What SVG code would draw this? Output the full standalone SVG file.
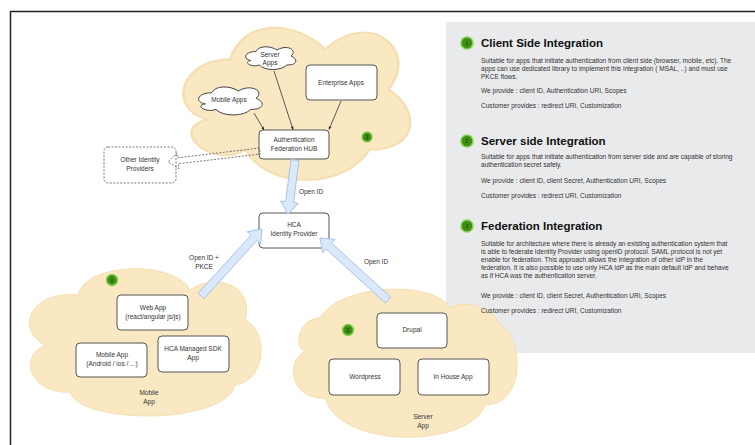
<svg xmlns="http://www.w3.org/2000/svg" xmlns:xlink="http://www.w3.org/1999/xlink" width="755" height="445" viewBox="0 0 755 445">
<defs>
<path id="cloud" d="M25 25 C5 25 0 50 16 55 C0 60 18 80 31 70 C40 90 70 90 80 70 C100 70 100 50 87.5 40 C100 20 80 0 62.5 20 C50 5 30 5 25 25 Z"/>
<marker id="arr" viewBox="0 0 10 10" refX="9" refY="5" markerWidth="5" markerHeight="5" orient="auto"><path d="M0 1 L10 5 L0 9 L3 5 Z" fill="#222"/></marker>
</defs>
<style>
text{font-family:"Liberation Sans",Arial,sans-serif;}
.t{font-size:6.5px;fill:#333;text-anchor:middle;}
.node{fill:#fff;stroke:#555;stroke-width:1;}
.bigcloud{fill:#fae8c2;stroke:#f5dfb0;stroke-width:1;}
.smallcloud{fill:#fff;stroke:#444;stroke-width:1;}
.fat{fill:#dae8fc;stroke:#a9c2e6;stroke-width:1;}
.thin{stroke:#333;stroke-width:0.8;fill:none;marker-end:url(#arr);}
.badge{fill:#3e8e12;stroke:#86d155;stroke-width:1.5;}
.bn{font-size:5px;fill:#163a04;text-anchor:middle;}
.title{font-size:11.5px;font-weight:bold;fill:#111;}
.body{font-size:6.55px;fill:#333;}
</style>
<rect x="10.5" y="11.5" width="760" height="450" fill="#fff" stroke="#222" stroke-width="1.5"/>
<rect x="446" y="22" width="320" height="331" fill="#e9eaec"/>
<g id="federation-cloud">
<use href="#cloud" class="bigcloud" transform="translate(167,9) scale(2.53,2.01)" vector-effect="non-scaling-stroke"/>
<circle class="badge" cx="367" cy="137" r="5"/><text class="bn" x="367" y="138.8">3</text>
</g>
<g id="mobile-cloud">
<path class="bigcloud" d="M78 295 C85 262 175 260 190 290 C215 272 255 285 245 320 C268 330 268 380 235 385 C225 425 80 425 70 392 C35 395 15 360 45 345 C15 330 30 290 78 295 Z"/>
<circle class="badge" cx="112" cy="280" r="5.5"/><text class="bn" x="112" y="281.8">1</text>
<text class="t" x="149" y="395.3">Mobile</text><text class="t" x="149" y="404.3">App</text>
</g>
<g id="server-cloud">
<path class="bigcloud" d="M320 318 C300 318 292 345 305 352 C285 360 290 400 325 398 C340 450 470 448 485 405 C525 405 525 340 500 325 C492 305 462 300 450 308 C435 280 340 283 320 318 Z"/>
<circle class="badge" cx="348" cy="330" r="5.5"/><text class="bn" x="348" y="331.8">2</text>
<text class="t" x="423" y="419.3">Server</text><text class="t" x="423" y="428.3">App</text>
</g>
<g id="panel">
<circle class="badge" cx="467" cy="43" r="6"/><text class="bn" x="467" y="44.8">1</text>
<text class="title" x="481" y="47">Client Side Integration</text>
<text class="body" x="481" y="63">Suitable for apps that initiate authentication from client side (browser, mobile, etc). The</text>
<text class="body" x="481" y="71">apps can use dedicated library to implement this integration ( MSAL, ..) and must use</text>
<text class="body" x="481" y="79">PKCE flows.</text>
<text class="body" x="481" y="93">We provide : client ID, Authentication URI, Scopes</text>
<text class="body" x="481" y="108">Customer provides : redirect URI, Customization</text>
<circle class="badge" cx="467" cy="141" r="6"/><text class="bn" x="467" y="142.8">2</text>
<text class="title" x="481" y="145">Server side Integration</text>
<text class="body" x="481" y="159">Suitable for apps that initiate authentication from server side and are capable of storing</text>
<text class="body" x="481" y="167">authentication secret safely.</text>
<text class="body" x="481" y="183">We provide : client ID, client Secret, Authentication URI, Scopes</text>
<text class="body" x="481" y="198">Customer provides : redirect URI, Customization</text>
<circle class="badge" cx="467" cy="226" r="6"/><text class="bn" x="467" y="227.8">3</text>
<text class="title" x="481" y="230">Federation Integration</text>
<text class="body" x="481" y="246">Suitable for architecture where there is already an existing authentication system that</text>
<text class="body" x="481" y="254">is able to federate Identity Provider using openID protocol. SAML protocol is not yet</text>
<text class="body" x="481" y="262">enable for federation.  This approach allows the integration of other IdP in the</text>
<text class="body" x="481" y="270">federation. It is also possible to use only HCA IdP as the main default IdP and behave</text>
<text class="body" x="481" y="278">as if HCA was the authentication server.</text>
<text class="body" x="481" y="298">We provide : client ID, client Secret, Authentication URI, Scopes</text>
<text class="body" x="481" y="313">Customer provides : redirect URI, Customization</text>
</g>
<g id="server-apps">
<path class="smallcloud" d="M256 51.5 C244.8 51.5 242 59 251 60.5 C242 62 252.1 68 259.4 65 C264.4 71 281.2 71 286.8 65 C298 65 298 59 291 56 C298 50 286.8 44 277 50 C270 45.5 258.8 45.5 256 51.5 Z"/>
<text class="t" x="270" y="57">Server</text><text class="t" x="270" y="65">Apps</text>
</g>
<g id="mobile-apps">
<path class="smallcloud" d="M211.75 92.75 C197.55 92.75 194 102 205.36 103.85 C194 105.7 206.78 113.1 216 109.4 C222.4 116.8 243.7 116.8 250.8 109.4 C265 109.4 265 102 256.1 98.3 C265 90.9 250.8 83.5 238.4 90.9 C229.5 85.350 215.3 85.35 211.75 92.75 Z"/>
<text class="t" x="229" y="102.3">Mobile Apps</text>
</g>
<g id="enterprise-apps">
<rect class="node" x="306" y="65" width="71" height="35" rx="4"/>
<text class="t" x="341" y="85.3">Enterprise Apps</text>
</g>
<g id="hub">
<rect class="node" x="259" y="130" width="70" height="29" rx="4"/>
<text class="t" x="294" y="142.3">Authentication</text><text class="t" x="294" y="151.3">Federation HUB</text>
</g>
<g id="other-idp">
<rect x="104" y="147" width="72" height="36" rx="4" fill="#fff" stroke="#555" stroke-width="0.8" stroke-dasharray="2,1.5"/>
<text class="t" x="140" y="162.3">Other Identity</text><text class="t" x="140" y="171.3">Providers</text>
</g>
<g id="hca-idp">
<rect class="node" x="259" y="213" width="70" height="35" rx="4"/>
<text class="t" x="294" y="227.3">HCA</text><text class="t" x="294" y="236.3">Identity Provider</text>
</g>
<g id="web-app">
<rect class="node" x="117" y="295" width="71" height="35" rx="4"/>
<text class="t" x="153" y="310.3">Web App</text><text class="t" x="153" y="319.3">(react/angular js/js)</text>
</g>
<g id="mobile-app">
<rect class="node" x="76" y="343" width="71" height="34" rx="4"/>
<text class="t" x="112" y="357.3">Mobile App</text><text class="t" x="112" y="366.3">(Android / ios / ...)</text>
</g>
<g id="sdk-app">
<rect class="node" x="158" y="336" width="71" height="36" rx="4"/>
<text class="t" x="193" y="351.3">HCA Managed SDK</text><text class="t" x="193" y="360.3">App</text>
</g>
<g id="drupal">
<rect class="node" x="377" y="313" width="70" height="35" rx="4"/>
<text class="t" x="412" y="332.3">Drupal</text>
</g>
<g id="wordpress">
<rect class="node" x="329" y="359" width="71" height="36" rx="4"/>
<text class="t" x="365" y="379.3">Wordpress</text>
</g>
<g id="inhouse">
<rect class="node" x="418" y="359" width="71" height="36" rx="4"/>
<text class="t" x="453" y="379.3">In House App</text>
</g>
<g id="connectors">
<line class="thin" x1="254" y1="113" x2="264" y2="130"/>
<line class="thin" x1="274" y1="71" x2="293" y2="129.5"/>
<line class="thin" x1="341" y1="101" x2="329" y2="129.5"/>
<polygon points="259.6,148 177.5,157.8 176.9,152.9 168,162 178.9,168.7 178.3,163.8 260.4,154" fill="none" stroke="#555" stroke-width="0.8" stroke-dasharray="2,1.5"/>
<polygon class="fat" points="291.03,159.49 285.57,201.58 280.62,200.94 288,214 298.47,203.26 293.51,202.61 298.97,160.51"/>
<polygon class="fat" points="203.96,298.69 256.88,240.56 260.58,243.93 262,229 247.27,231.81 250.96,235.18 198.04,293.31"/>
<polygon class="fat" points="390.7,297.04 331.56,243.13 334.93,239.44 320,238 322.81,252.74 326.17,249.05 385.3,302.96"/>
<text class="t" x="311" y="194.3">Open ID</text>
<text class="t" x="204" y="260.3">Open ID +</text><text class="t" x="204" y="269.3">PKCE</text>
<text class="t" x="376" y="264.3">Open ID</text>
</g>
</svg>
